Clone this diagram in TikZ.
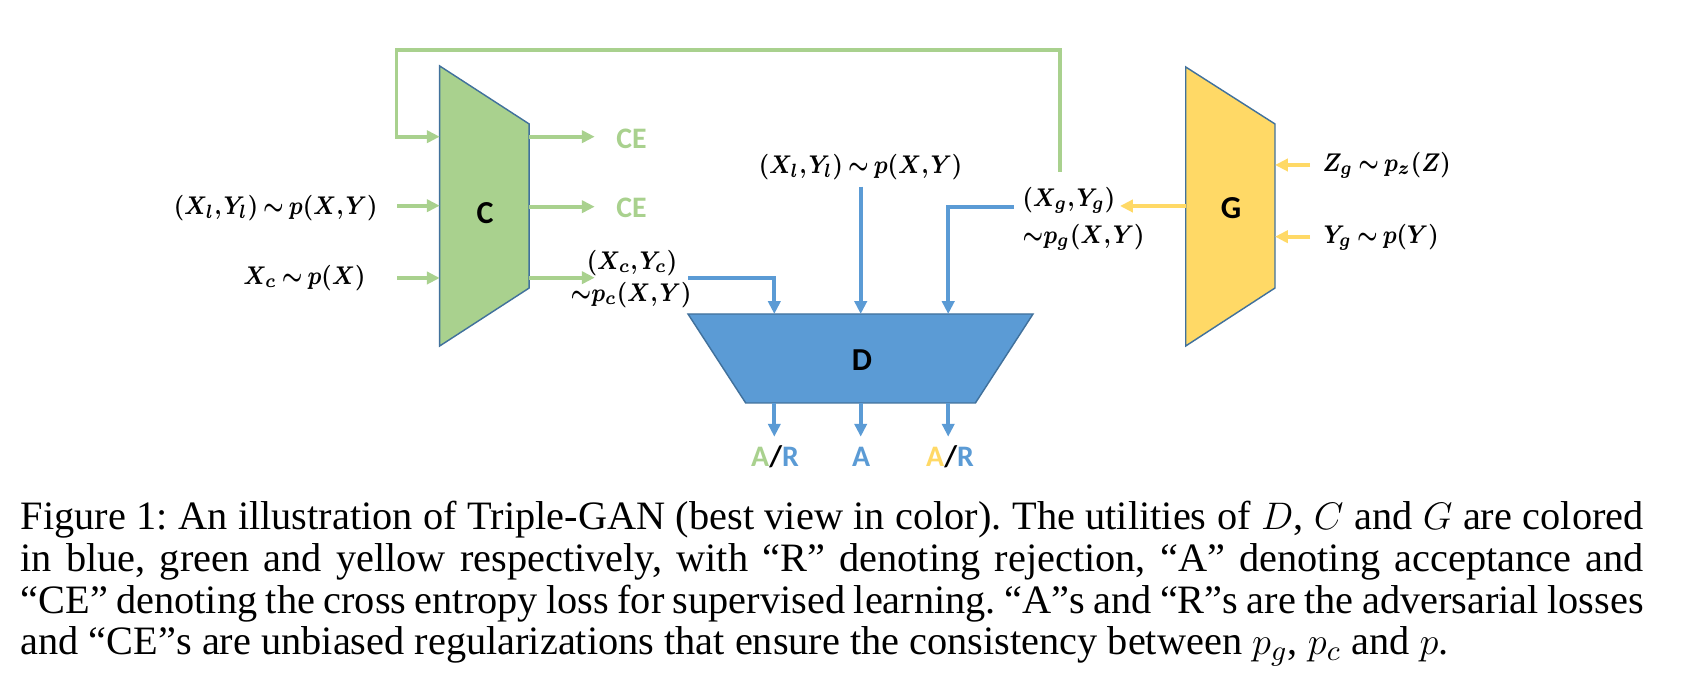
\documentclass[tikz,border=0pt]{standalone}
\usepackage{bm}
\usepackage{graphicx}
\usepackage[no-math]{fontspec}
\setmainfont{Liberation Serif}
\newfontfamily\calib{Carlito}
\usetikzlibrary{arrows.meta}
\definecolor{cgreen}{HTML}{A9D18E}
\definecolor{cblue}{HTML}{5B9BD5}
\definecolor{cyellow}{HTML}{FFD966}
\definecolor{cedge}{HTML}{41719C}
\newcommand{\tsim}{\mskip4mu\mathord{\sim}\mskip4mu}
\newcommand{\cm}{{,}\mskip1.5mu}
\newcommand{\ml}[1]{\scalebox{0.845}[1]{$\bm{#1}$}}
\begin{document}
\begin{tikzpicture}[x=0.3125pt,y=-0.3125pt,
  conn/.style={line width=1.15pt,-{Triangle[length=4pt,width=3.8pt]}},
  gline/.style={conn,draw=cgreen},
  bline/.style={conn,draw=cblue},
  yline/.style={conn,draw=cyellow},
  block/.style={draw=cedge,line width=0.45pt},
  blocklabel/.style={font=\calib\bfseries\fontsize{10}{12}\selectfont,inner sep=0pt},
  loss/.style={font=\calib\bfseries\fontsize{9.3}{11}\selectfont,inner sep=0pt},
  mlabel/.style={font=\fontsize{8}{9.5}\selectfont,inner sep=0pt}]
\useasboundingbox (0,0) rectangle (1684,694);

% blocks
\filldraw[block,fill=cgreen] (439.7,66) -- (529.2,124) -- (529.2,288) -- (439.7,346) -- cycle;
\node[blocklabel] (C) at (485,213) {C};
\filldraw[block,fill=cblue] (688,314) -- (1033,314) -- (975.4,403) -- (745.7,403) -- cycle;
\node[blocklabel] (D) at (862,360) {D};
\filldraw[block,fill=cyellow] (1185.7,67) -- (1275,124) -- (1275,288) -- (1185.7,346) -- cycle;
\node[blocklabel] (G) at (1231,208) {G};

% coordinates on block edges
\coordinate (Cin1) at (439.7,136.7);
\coordinate (Cin2) at (439.7,205.7);
\coordinate (Cin3) at (439.7,278);
\coordinate (Cout1) at (529.2,136.7);
\coordinate (Cout2) at (529.2,206.7);
\coordinate (Cout3) at (529.2,277.7);
\coordinate (Din1) at (774.3,314);
\coordinate (Din2) at (860.7,314);
\coordinate (Din3) at (948.2,314);
\coordinate (Dout1) at (774.3,403);
\coordinate (Dout2) at (860.7,403);
\coordinate (Dout3) at (948.2,403);
\coordinate (Gin1) at (1275,165);
\coordinate (Gin2) at (1275,236.7);
\coordinate (Gout) at (1185.7,206);

% labels
\node[mlabel,anchor=east] (xlyl) at (378,208) {\ml{(X_l\cm Y_l)\tsim p(X\cm Y)}};
\node[mlabel,anchor=east] (xc) at (366,278) {\ml{X_c\tsim p(X)}};
\node[loss,text=cgreen] (ce1) at (631.6,139) {CE};
\node[loss,text=cgreen] (ce2) at (631.6,208) {CE};
\node[mlabel] (xcyc) at (632,263) {\ml{(X_c\cm Y_c)}};
\node[mlabel] (pc) at (631,295) {\ml{\mathord{\sim} p_c(X\cm Y)}};
\node[mlabel] (xlyl2) at (860.5,166.7) {\ml{(X_l\cm Y_l)\tsim p(X\cm Y)}};
\node[mlabel,anchor=west] (xgyg) at (1022,200) {\ml{(X_g\cm Y_g)}};
\node[mlabel,anchor=west] (pg) at (1022,237) {\ml{\mathord{\sim} p_g(X\cm Y)}};
\node[mlabel,anchor=west] (zg) at (1322,165) {\ml{Z_g\tsim p_z(Z)}};
\node[mlabel,anchor=west] (yg) at (1323,237) {\ml{Y_g\tsim p(Y)}};
\node[loss] (ar1) at (775,456.7) {\textcolor{cgreen}{A}/\textcolor{cblue}{R}};
\node[loss,text=cblue] (a2) at (861,456.7) {A};
\node[loss] (ar3) at (950,456.7) {\textcolor{cyellow}{A}/\textcolor{cblue}{R}};

% free ends
\coordinate (fbstart) at (1060,171.7);
\coordinate (fbtr) at (1060,50);
\coordinate (fbtl) at (396.6,50);
\coordinate (fbbl) at (396.6,136.7);
\coordinate (xlyls) at (397,205.7);
\coordinate (xcs) at (397,278);
\coordinate (ce1e) at (594.7,136.7);
\coordinate (ce2e) at (594.7,206.7);
\coordinate (pce) at (594.7,277.7);
\coordinate (bcs) at (688,278.3);
\coordinate (bcc) at (774.3,278.3);
\coordinate (bls) at (860.7,186.7);
\coordinate (bgs) at (1013.6,206.7);
\coordinate (bgc) at (948.2,206.7);
\coordinate (ar1e) at (774.3,436.7);
\coordinate (a2e) at (860.7,436.7);
\coordinate (ar3e) at (948.2,436.7);
\coordinate (yge) at (1120,206);
\coordinate (zgs) at (1310,165);
\coordinate (ygs) at (1310,236.7);

% green connectors
\draw[gline] (fbstart) -- (fbtr) -- (fbtl) -- (fbbl) -- (Cin1);
\draw[gline] (xlyls) -- (Cin2);
\draw[gline] (xcs) -- (Cin3);
\draw[gline] (Cout1) -- (ce1e);
\draw[gline] (Cout2) -- (ce2e);
\draw[gline] (Cout3) -- (pce);

% blue connectors
\draw[bline] (bcs) -- (bcc) -- (Din1);
\draw[bline] (bls) -- (Din2);
\draw[bline] (bgs) -- (bgc) -- (Din3);
\draw[bline] (Dout1) -- (ar1e);
\draw[bline] (Dout2) -- (a2e);
\draw[bline] (Dout3) -- (ar3e);

% yellow connectors
\draw[yline] (Gout) -- (yge);
\draw[yline] (zgs) -- (Gin1);
\draw[yline] (ygs) -- (Gin2);

% caption
\node[anchor=base west,inner sep=0pt,text width=507.2pt,align=justify,
      font=\frenchspacing\fontsize{12.6}{13.0}\selectfont] (caption) at (20,530)
{Figure 1: An illustration of Triple-GAN (best view in color). The utilities of $D$, $C$ and $G$ are colored\linebreak
in blue, green and yellow respectively, with “R” denoting rejection, “A” denoting acceptance and\linebreak
“CE” denoting the cross entropy loss for supervised learning. “A”s and “R”s are the adversarial losses\linebreak
and “CE”s are unbiased regularizations that ensure the consistency between $p_g$, $p_c$ and $p$.};
\end{tikzpicture}
\end{document}
